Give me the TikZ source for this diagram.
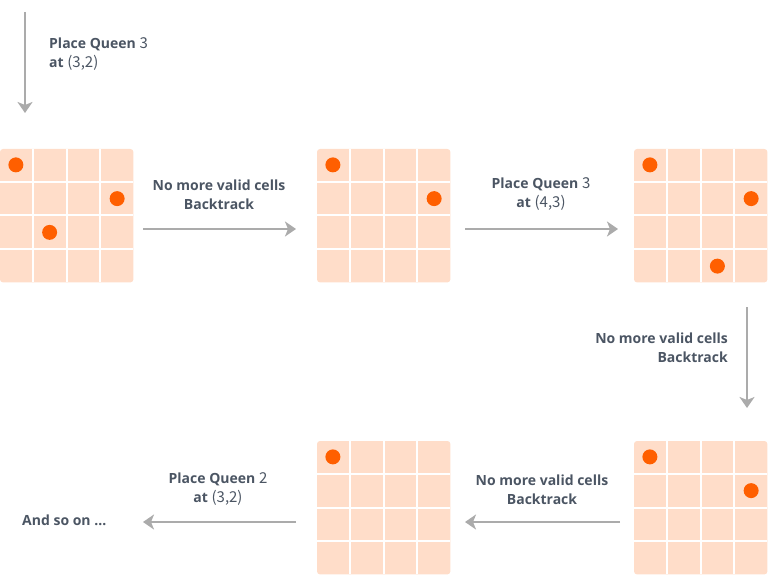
\documentclass[tikz,border=0pt]{standalone}
\usepackage{fontspec}
\setmainfont{Open Sans}
\newfontfamily\numfont{Noto Sans CJK SC}
\usetikzlibrary{arrows.meta,calc}
\definecolor{cellc}{HTML}{FFDDC9}
\definecolor{queenc}{HTML}{FF5F00}
\definecolor{txtc}{HTML}{4B5563}
\definecolor{arrc}{HTML}{ABABAB}
\newcommand\nm[1]{{\numfont\mdseries\fontsize{15}{19}\selectfont #1}}
\newcommand\drawboard[2]{%
  \node[boardbox, anchor=north west] (#1) at (#2) {};
  \fill[cellc, rounded corners=3pt] (#1.north west) rectangle (#1.south east);
  \foreach \k in {1,2,3} {
    \draw[gridline] ($(#1.north west)+(\k*33.75-1,0)$) -- ++(0,133);
    \draw[gridline] ($(#1.north west)+(0,\k*33.75-1)$) -- ++(133,0);
  }%
}
\newcommand\queen[3]{%
  \fill[queenc] ($(#1.north west)+({(#2-1)*33.75+15.875},{(#3-1)*33.75+15.875})$) circle (7.5pt);%
}
\begin{document}
\begin{tikzpicture}[x=1pt,y=-1pt,
  boardbox/.style={minimum width=133pt, minimum height=133pt, inner sep=0pt, draw=none},
  gridline/.style={draw=white, line width=2pt},
  arrowline/.style={draw=arrc, line width=2pt, -{Stealth[length=11pt, width=15pt, inset=3pt]}},
  lbl/.style={text=txtc, font=\bfseries\fontsize{14}{19}\selectfont, inner sep=0pt}]
\useasboundingbox (0,0) rectangle (778,585);
\drawboard{b1}{0,149}
\drawboard{b2}{317,149}
\drawboard{b3}{634,149}
\drawboard{b4}{634,441}
\drawboard{b5}{317,441}
\queen{b1}{1}{1}\queen{b1}{4}{2}\queen{b1}{2}{3}
\queen{b2}{1}{1}\queen{b2}{4}{2}
\queen{b3}{1}{1}\queen{b3}{4}{2}\queen{b3}{3}{4}
\queen{b4}{1}{1}\queen{b4}{4}{2}
\queen{b5}{1}{1}
\coordinate (a0s) at (25,12);   \coordinate (a0e) at (25,113);
\coordinate (a1s) at (143,229); \coordinate (a1e) at (296,229);
\coordinate (a2s) at (465,229); \coordinate (a2e) at (618,229);
\coordinate (a3s) at (747,307); \coordinate (a3e) at (747,408);
\coordinate (a4s) at (620,522); \coordinate (a4e) at (465,522);
\coordinate (a5s) at (296,522); \coordinate (a5e) at (143,522);
\draw[arrowline] (a0s) -- (a0e);
\draw[arrowline] (a1s) -- (a1e);
\draw[arrowline] (a2s) -- (a2e);
\draw[arrowline] (a3s) -- (a3e);
\draw[arrowline] (a4s) -- (a4e);
\draw[arrowline] (a5s) -- (a5e);
\node[lbl, align=left, anchor=west] (l0) at (49,54) {Place Queen \nm{3}\\at \nm{(3,2)}};
\node[lbl, align=center] (l1) at (219,194.5) {No more valid cells\\Backtrack};
\node[lbl, align=center] (l2) at (541,194.5) {Place Queen \nm{3}\\at \nm{(4,3)}};
\node[lbl, align=right, anchor=east] (l3) at (728,348) {No more valid cells\\Backtrack};
\node[lbl, align=center] (l4) at (542,489.5) {No more valid cells\\Backtrack};
\node[lbl, align=center] (l5) at (218,489.5) {Place Queen \nm{2}\\at \nm{(3,2)}};
\node[lbl, anchor=west] (l6) at (22,520) {And so on ...};
\end{tikzpicture}
\end{document}
